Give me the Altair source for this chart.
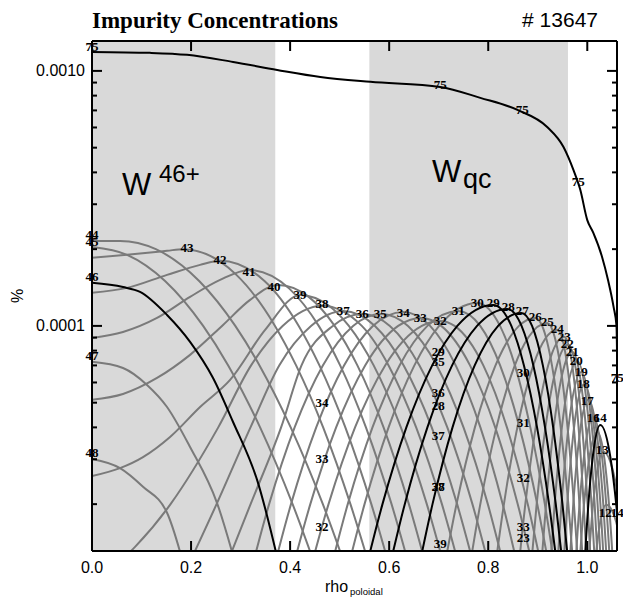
import altair as alt
import pandas as pd

# ---------------- data ----------------
rho_z75 = [0.0, 0.117, 0.192, 0.285, 0.374, 0.461, 0.562, 0.703, 0.784, 0.859, 0.919, 0.952,
           0.972, 0.986, 1.0, 1.012, 1.030, 1.042, 1.053, 1.059, 1.0606]
conc_z75 = [1.187e-3, 1.177e-3, 1.156e-3, 1.084e-3, 1.009e-3, 9.47e-4, 9.06e-4, 8.65e-4, 7.84e-4,
            7.03e-4, 6.03e-4, 5.03e-4, 4.09e-4, 3.41e-4, 2.60e-4, 2.32e-4, 1.86e-4, 1.51e-4,
            1.19e-4, 1.0e-4, 6.5e-5]

rho_z48 = [0.0, 0.0566, 0.1030, 0.1515, 0.1939]
conc_z48 = [3.01e-5, 2.77e-5, 2.34e-5, 1.85e-5, 1.0e-5]
rho_z47 = [0.0, 0.0626, 0.1111, 0.1515, 0.1980, 0.2525, 0.2990]
conc_z47 = [7.23e-5, 6.84e-5, 5.87e-5, 4.81e-5, 3.35e-5, 2.02e-5, 1.0e-5]
rho_z46 = [0.0, 0.0626, 0.0970, 0.1515, 0.1980, 0.2444, 0.2848, 0.3333, 0.3851]
conc_z46 = [1.475e-4, 1.42e-4, 1.36e-4, 1.104e-4, 8.66e-5, 6.25e-5, 4.2e-5, 2.49e-5, 1.0e-5]
rho_z45 = [0.0, 0.0709, 0.1475, 0.2244, 0.2750, 0.3394, 0.4050, 0.4616]
conc_z45 = [2.04e-4, 1.9e-4, 1.5e-4, 1.0e-4, 7e-5, 4e-5, 2e-5, 1e-5]
rho_z44 = [0.0, 0.0566, 0.1289, 0.2164, 0.2893, 0.3382, 0.4012, 0.4661, 0.5220]
conc_z44 = [2.154e-4, 2.154e-4, 2.0e-4, 1.5e-4, 1.0e-4, 7e-5, 4e-5, 2e-5, 1e-5]
rho_z43 = [0.0, 0.0707, 0.1515, 0.1838, 0.2895, 0.3695, 0.4121, 0.4667, 0.5218, 0.5693]
conc_z43 = [1.85e-4, 1.90e-4, 1.97e-4, 2.0e-4, 1.6e-4, 1.0e-4, 7e-5, 4e-5, 2e-5, 1e-5]
rho_z42 = [0.0, 0.0707, 0.1515, 0.2182, 0.2586, 0.3483, 0.4174, 0.4592, 0.5115, 0.5640, 0.6087]
conc_z42 = [1.35e-4, 1.41e-4, 1.585e-4, 1.735e-4, 1.8e-4, 1.5e-4, 1.0e-4, 7e-5, 4e-5, 2e-5, 1e-5]
rho_z41 = [0.0, 0.0626, 0.1313, 0.1980, 0.2586, 0.3172, 0.3984, 0.4578, 0.5010, 0.5531, 0.6048, 0.6487]
conc_z41 = [8.97e-5, 9.47e-5, 1.075e-4, 1.3e-4, 1.515e-4, 1.658e-4, 1.4e-4, 1.0e-4, 7e-5, 4e-5, 2e-5, 1e-5]
rho_z40 = [0.0, 0.0626, 0.1313, 0.1980, 0.2646, 0.3192, 0.3758, 0.4376, 0.4899, 0.5358, 0.5887,
           0.6398, 0.6826]
conc_z40 = [5.13e-5, 5.41e-5, 6.25e-5, 7.7e-5, 1.009e-4, 1.265e-4, 1.448e-4, 1.3e-4, 1.0e-4, 7e-5,
            4e-5, 2e-5, 1e-5]
rho_z39 = [0.0, 0.0566, 0.1030, 0.1576, 0.2182, 0.2788, 0.3495, 0.4202, 0.4784, 0.5186, 0.5687,
           0.6236, 0.6760, 0.7192]
conc_z39 = [2.58e-5, 2.77e-5, 3.06e-5, 3.67e-5, 4.81e-5, 6.14e-5, 9.65e-5, 1.323e-4, 1.2e-4, 1.0e-4,
            7e-5, 4e-5, 2e-5, 1e-5]
rho_z38 = [0.0162, 0.1586, 0.2549, 0.3212, 0.3848, 0.4646, 0.5448, 0.5988, 0.6545, 0.7065, 0.7491]
conc_z38 = [1e-5, 2e-5, 4e-5, 7e-5, 1e-4, 1.2e-4, 1e-4, 7e-5, 4e-5, 2e-5, 1e-5]
rho_z37 = [0.1798, 0.2515, 0.3200, 0.3780, 0.4422, 0.5071, 0.5713, 0.6293, 0.6859, 0.7372, 0.7792]
conc_z37 = [1e-5, 2e-5, 4e-5, 7e-5, 1e-4, 1.145e-4, 1e-4, 7e-5, 4e-5, 2e-5, 1e-5]
rho_z36 = [0.2586, 0.3202, 0.3818, 0.4230, 0.4863, 0.5455, 0.6014, 0.6612, 0.7174, 0.7681, 0.8093]
conc_z36 = [1e-5, 2e-5, 4e-5, 7e-5, 1e-4, 1.114e-4, 1e-4, 7e-5, 4e-5, 2e-5, 1e-5]
rho_z35 = [0.3158, 0.3576, 0.4091, 0.4661, 0.5271, 0.5838, 0.6380, 0.6960, 0.7501, 0.7992, 0.8390]
conc_z35 = [1e-5, 2e-5, 4e-5, 7e-5, 1e-4, 1.114e-4, 1e-4, 7e-5, 4e-5, 2e-5, 1e-5]
rho_z34 = [0.3604, 0.4018, 0.4527, 0.5089, 0.5671, 0.6283, 0.6826, 0.7343, 0.7842, 0.8293, 0.8663]
conc_z34 = [1e-5, 2e-5, 4e-5, 7e-5, 1e-4, 1.135e-4, 1e-4, 7e-5, 4e-5, 2e-5, 1e-5]
rho_z33 = [0.3984, 0.4408, 0.4929, 0.5515, 0.6182, 0.6646, 0.7051, 0.7632, 0.8141, 0.8596, 0.8966]
conc_z33 = [1e-5, 2e-5, 4e-5, 7e-5, 1e-4, 1.075e-4, 1e-4, 7e-5, 4e-5, 2e-5, 1e-5]
rho_z32 = [0.4345, 0.4776, 0.5311, 0.5919, 0.6659, 0.7030, 0.7321, 0.7901, 0.8378, 0.8798, 0.9135]
conc_z32 = [1e-5, 2e-5, 4e-5, 7e-5, 1e-4, 1.046e-4, 1e-4, 7e-5, 4e-5, 2e-5, 1e-5]
rho_z31 = [0.4758, 0.5164, 0.5663, 0.6210, 0.6772, 0.7394, 0.7838, 0.8240, 0.8632, 0.8990, 0.9279]
conc_z31 = [1e-5, 2e-5, 4e-5, 7e-5, 1e-4, 1.145e-4, 1e-4, 7e-5, 4e-5, 2e-5, 1e-5]
rho_z30 = [0.5103, 0.5503, 0.5988, 0.6509, 0.7008, 0.7778, 0.8238, 0.8539, 0.8850, 0.9143, 0.9382]
conc_z30 = [1e-5, 2e-5, 4e-5, 7e-5, 1e-4, 1.231e-4, 1e-4, 7e-5, 4e-5, 2e-5, 1e-5]
rho_z29 = [0.5469, 0.5865, 0.6347, 0.6869, 0.7376, 0.8101, 0.8467, 0.8721, 0.8986, 0.9228, 0.9428]
conc_z29 = [1e-5, 2e-5, 4e-5, 7e-5, 1e-4, 1.209e-4, 1e-4, 7e-5, 4e-5, 2e-5, 1e-5]
rho_z28 = [0.5941, 0.6315, 0.6772, 0.7271, 0.7774, 0.8384, 0.8673, 0.8911, 0.9147, 0.9364, 0.9541]
conc_z28 = [1e-5, 2e-5, 4e-5, 7e-5, 1e-4, 1.166e-4, 1e-4, 7e-5, 4e-5, 2e-5, 1e-5]
rho_z27 = [0.6543, 0.6875, 0.7279, 0.7727, 0.8200, 0.8667, 0.8885, 0.9103, 0.9311, 0.9499, 0.9653]
conc_z27 = [1e-5, 2e-5, 4e-5, 7e-5, 1e-4, 1.124e-4, 1e-4, 7e-5, 4e-5, 2e-5, 1e-5]
rho_z26 = [0.7061, 0.7360, 0.7731, 0.8147, 0.8620, 0.8949, 0.9089, 0.9287, 0.9463, 0.9618, 0.9743]
conc_z26 = [1e-5, 2e-5, 4e-5, 7e-5, 1e-4, 1.075e-4, 1e-4, 7e-5, 4e-5, 2e-5, 1e-5]
rho_z25 = [0.7580, 0.7840, 0.8166, 0.8537, 0.8808, 0.9192, 0.9345, 0.9455, 0.9602, 0.9731, 0.9836]
conc_z25 = [1e-5, 2e-5, 4e-5, 7e-5, 9e-5, 1.027e-4, 9e-5, 7e-5, 4e-5, 2e-5, 1e-5]
rho_z24 = [0.8103, 0.8317, 0.8588, 0.8909, 0.9394, 0.9596, 0.9729, 0.9842, 0.9931]
conc_z24 = [1e-5, 2e-5, 4e-5, 7e-5, 9.65e-5, 7e-5, 4e-5, 2e-5, 1e-5]
rho_z23 = [0.8586, 0.8749, 0.8958, 0.9210, 0.9535, 0.9697, 0.9824, 0.9927, 1.0010]
conc_z23 = [1e-5, 2e-5, 4e-5, 7e-5, 9.06e-5, 7e-5, 4e-5, 2e-5, 1e-5]
rho_z22 = [0.8838, 0.8978, 0.9156, 0.9386, 0.9616, 0.9756, 0.9897, 1.0006, 1.0091]
conc_z22 = [1e-5, 2e-5, 4e-5, 7e-5, 8.43e-5, 7e-5, 4e-5, 2e-5, 1e-5]
rho_z21 = [0.9046, 0.9168, 0.9323, 0.9539, 0.9697, 0.9812, 0.9972, 1.0085, 1.0174]
conc_z21 = [1e-5, 2e-5, 4e-5, 7e-5, 7.91e-5, 7e-5, 4e-5, 2e-5, 1e-5]
rho_z20 = [0.9232, 0.9341, 0.9487, 0.9552, 0.9798, 0.9988, 1.0036, 1.0149, 1.0232]
conc_z20 = [1e-5, 2e-5, 4e-5, 5e-5, 7.29e-5, 5e-5, 4e-5, 2e-5, 1e-5]
rho_z19 = [0.9376, 0.9479, 0.9620, 0.9879, 1.0093, 1.0208, 1.0293]
conc_z19 = [1e-5, 2e-5, 4e-5, 6.6e-5, 4e-5, 2e-5, 1e-5]
rho_z18 = [0.9501, 0.9596, 0.9733, 0.9939, 1.0135, 1.0265, 1.0356]
conc_z18 = [1e-5, 2e-5, 4e-5, 5.92e-5, 4e-5, 2e-5, 1e-5]
rho_z17 = [0.9622, 0.9717, 0.9865, 1.0020, 1.0176, 1.0323, 1.0418]
conc_z17 = [1e-5, 2e-5, 4e-5, 5.13e-5, 4e-5, 2e-5, 1e-5]
rho_z16 = [0.9741, 0.9844, 0.9927, 1.0121, 1.0303, 1.0382, 1.0479]
conc_z16 = [1e-5, 2e-5, 3e-5, 4.4e-5, 3e-5, 2e-5, 1e-5]
rho_z15 = [0.9818, 0.9935, 1.0038, 1.0202, 1.0347, 1.0438, 1.0541]
conc_z15 = [1e-5, 2e-5, 3e-5, 3.84e-5, 3e-5, 2e-5, 1e-5]
rho_z14 = [0.9925, 1.0022, 1.0105, 1.0263, 1.0473, 1.0584, 1.0713]
conc_z14 = [1e-5, 2e-5, 3e-5, 4.09e-5, 3e-5, 2e-5, 1e-5]
rho_z13 = [1.0000, 1.0117, 1.0174, 1.0323, 1.0558, 1.0646, 1.0830]
conc_z13 = [1e-5, 2e-5, 2.5e-5, 3.21e-5, 2.5e-5, 2e-5, 1e-5]
rho_z12 = [1.0123, 1.0218, 1.0384, 1.0651, 1.0800]
conc_z12 = [1e-5, 1.5e-5, 1.99e-5, 1.5e-5, 1e-5]

gray_curves = {
    "48": (rho_z48, conc_z48), "47": (rho_z47, conc_z47), "45": (rho_z45, conc_z45),
    "44": (rho_z44, conc_z44), "43": (rho_z43, conc_z43), "42": (rho_z42, conc_z42),
    "41": (rho_z41, conc_z41), "40": (rho_z40, conc_z40), "39": (rho_z39, conc_z39),
    "38": (rho_z38, conc_z38), "37": (rho_z37, conc_z37), "36": (rho_z36, conc_z36),
    "35": (rho_z35, conc_z35), "34": (rho_z34, conc_z34), "33": (rho_z33, conc_z33),
    "32": (rho_z32, conc_z32), "31": (rho_z31, conc_z31), "30": (rho_z30, conc_z30),
    "26": (rho_z26, conc_z26), "25": (rho_z25, conc_z25), "24": (rho_z24, conc_z24),
    "23": (rho_z23, conc_z23), "22": (rho_z22, conc_z22), "21": (rho_z21, conc_z21),
    "20": (rho_z20, conc_z20), "19": (rho_z19, conc_z19), "18": (rho_z18, conc_z18),
    "17": (rho_z17, conc_z17), "16": (rho_z16, conc_z16), "15": (rho_z15, conc_z15),
    "13": (rho_z13, conc_z13), "12": (rho_z12, conc_z12),
}
black_curves = {
    "46": (rho_z46, conc_z46), "29": (rho_z29, conc_z29), "28": (rho_z28, conc_z28),
    "27": (rho_z27, conc_z27), "14": (rho_z14, conc_z14), "75": (rho_z75, conc_z75),
}

# curve labels
lab_text = ["75", "75", "75", "75", "75", "44", "45", "46", "47", "48",
            "43", "42", "41", "40", "39", "38", "37", "36", "35", "34", "33", "32", "31",
            "30", "29", "28", "27", "26", "25", "24", "23", "22", "21", "20", "19", "18",
            "17", "16", "14", "13", "12", "14",
            "34", "33", "32", "29", "35", "36", "28", "37", "38", "27", "39",
            "30", "31", "32", "33", "23"]
lab_rho = [0.0, 0.703, 0.8687, 0.9818, 1.0606, 0.0, 0.0, 0.0, 0.0, 0.0,
           0.1919, 0.2586, 0.3172, 0.3677, 0.4202, 0.4646, 0.5071, 0.5455, 0.5818, 0.6283,
           0.6626, 0.7030, 0.7394, 0.7778, 0.8101, 0.8404, 0.8687, 0.8949, 0.9192, 0.9394,
           0.9535, 0.9596, 0.9697, 0.9778, 0.9879, 0.9919, 1.0, 1.0121, 1.0263, 1.0303,
           1.0364, 1.0606,
           0.4646, 0.4646, 0.4646, 0.699, 0.699, 0.699, 0.699, 0.699, 0.699, 0.699, 0.703,
           0.8707, 0.8707, 0.8707, 0.8707, 0.8707]
lab_conc = [1.242e-3, 8.81e-4, 7.03e-4, 3.67e-4, 6.25e-5, 2.28e-4, 2.14e-4, 1.56e-4, 7.63e-5, 3.18e-5,
            2.02e-4, 1.82e-4, 1.63e-4, 1.42e-4, 1.32e-4, 1.22e-4, 1.145e-4, 1.114e-4, 1.114e-4,
            1.124e-4, 1.075e-4, 1.046e-4, 1.145e-4, 1.231e-4, 1.231e-4, 1.187e-4, 1.145e-4,
            1.085e-4, 1.037e-4, 9.73e-5, 9.06e-5, 8.5e-5, 7.91e-5, 7.29e-5, 6.6e-5, 5.92e-5,
            5.08e-5, 4.36e-5, 4.36e-5, 3.26e-5, 1.85e-5, 1.85e-5,
            4.99e-5, 3.01e-5, 1.63e-5, 7.91e-5, 7.23e-5, 5.46e-5, 4.86e-5, 3.7e-5, 2.34e-5,
            2.34e-5, 1.4e-5,
            6.54e-5, 4.17e-5, 2.53e-5, 1.63e-5, 1.47e-5]

band_start = [0.0, 0.56]
band_end = [0.37, 0.961]

x_tick_values = [0.0, 0.2, 0.4, 0.6, 0.8, 1.0]
y_major_ticks = [1e-4, 1e-3]
y_minor_ticks = [2e-5, 3e-5, 4e-5, 5e-5, 6e-5, 7e-5, 8e-5, 9e-5,
                 2e-4, 3e-4, 4e-4, 5e-4, 6e-4, 7e-4, 8e-4, 9e-4]

# ---------------- build tables ----------------
def rows(curves):
    out = []
    for name, (rr, cc) in curves.items():
        for r, c in zip(rr, cc):
            out.append({"ion": name, "rho": r, "conc": c})
    return pd.DataFrame(out)

gray_df = rows(gray_curves)
black_df = rows(black_curves)
lab_df = pd.DataFrame({"t": lab_text, "rho": lab_rho, "conc": lab_conc})
band_df = pd.DataFrame({"a": band_start, "b": band_end})
xlab_df = pd.DataFrame({"t": x_tick_values})
xt_df = pd.DataFrame({"t": x_tick_values[1:]})
ymaj_df = pd.DataFrame({"t": y_major_ticks})
ymin_df = pd.DataFrame({"t": y_minor_ticks})
one = pd.DataFrame({"k": [0]})

W, H = 525, 510
xs = alt.Scale(domain=[0, 1.06], nice=False, zero=False)
ys = alt.Scale(type="log", domain=[1.31e-5, 1.31e-3], nice=False)
GRAY = "#7a7a7a"
SANS = "Liberation Sans"
SERIF = "Liberation Serif"

bands = alt.Chart(band_df).mark_rect(color="#d9d9d9").encode(
    x=alt.X("a:Q", scale=xs, axis=None), x2="b:Q",
    y=alt.value(0), y2=alt.value(H))

gray_lines = alt.Chart(gray_df).mark_line(
    color=GRAY, strokeWidth=2, interpolate="monotone", clip=True).encode(
    x=alt.X("rho:Q", scale=xs, axis=None),
    y=alt.Y("conc:Q", scale=ys, axis=None),
    detail="ion:N")

black_lines = alt.Chart(black_df).mark_line(
    color="black", strokeWidth=2, interpolate="monotone", clip=True).encode(
    x=alt.X("rho:Q", scale=xs, axis=None),
    y=alt.Y("conc:Q", scale=ys, axis=None),
    detail="ion:N")

labels = alt.Chart(lab_df).mark_text(
    font=SERIF, fontWeight="bold", fontSize=13, color="black",
    align="center", baseline="middle").encode(
    x=alt.X("rho:Q", scale=xs, axis=None),
    y=alt.Y("conc:Q", scale=ys, axis=None),
    text="t:N")

# tick labels placed through the scales
xlabels = alt.Chart(xlab_df).mark_text(
    font=SANS, fontSize=16, color="black", align="center", baseline="alphabetic").encode(
    x=alt.X("t:Q", scale=xs, axis=None), y=alt.value(H + 22),
    text=alt.Text("t:Q", format=".1f"))
ylabels = alt.Chart(ymaj_df).mark_text(
    font=SANS, fontSize=16, color="black", align="right", baseline="middle").encode(
    y=alt.Y("t:Q", scale=ys, axis=None), x=alt.value(-7),
    text=alt.Text("t:Q", format=".4f"))

def yrule(df, x0, x1):
    return alt.Chart(df).mark_rule(color="black", strokeWidth=2).encode(
        y=alt.Y("t:Q", scale=ys, axis=None), x=alt.value(x0), x2=alt.value(x1))

def xrule(df, y0, y1):
    return alt.Chart(df).mark_rule(color="black", strokeWidth=2).encode(
        x=alt.X("t:Q", scale=xs, axis=None), y=alt.value(y0), y2=alt.value(y1))

ticks = [
    xrule(xt_df, H, H - 10), xrule(xt_df, 0, 10),
    yrule(ymaj_df, 0, 10), yrule(ymin_df, 0, 5),
    yrule(ymaj_df, W, W - 10), yrule(ymin_df, W, W - 5),
]

frame = [
    alt.Chart(one).mark_rule(color="black", strokeWidth=2).encode(
        x=alt.value(0), y=alt.value(0), y2=alt.value(H)),
    alt.Chart(one).mark_rule(color="black", strokeWidth=2).encode(
        x=alt.value(W), y=alt.value(0), y2=alt.value(H)),
    alt.Chart(one).mark_rule(color="black", strokeWidth=2).encode(
        x=alt.value(0), x2=alt.value(W), y=alt.value(0)),
    alt.Chart(one).mark_rule(color="black", strokeWidth=2).encode(
        x=alt.value(0), x2=alt.value(W), y=alt.value(H)),
]

def note(text, x, y, size, font=SANS, weight="normal", align="left", angle=0, baseline="alphabetic"):
    return alt.Chart(one).mark_text(
        text=text, font=font, fontSize=size, fontWeight=weight, color="black",
        align=align, baseline=baseline, angle=angle).encode(
        x=alt.value(x), y=alt.value(y))

notes = [
    note("Impurity Concentrations", 0, -13, 23, font=SERIF, weight="bold"),
    note("# 13647", 506, -14, 21, align="right"),
    note("W", 30, 154, 31),
    note("46+", 67, 141, 24),
    note("W", 340, 141, 31),
    note("qc", 371, 147, 27),
    note("%", -74, 255, 16, align="center", angle=270, baseline="middle"),
    note("rho", 233, 551, 16),
    note("poloidal", 258, 554, 9.5),
]

chart = alt.layer(bands, gray_lines, black_lines, labels, xlabels, ylabels,
                  *ticks, *frame, *notes).properties(
    width=W, height=H,
    autosize=alt.AutoSizeParams(type="none"),
    padding={"left": 92, "top": 41, "right": 6, "bottom": 48},
).configure_view(stroke=None)

chart.save("out.html", embed_options={"renderer": "svg", "actions": False})
